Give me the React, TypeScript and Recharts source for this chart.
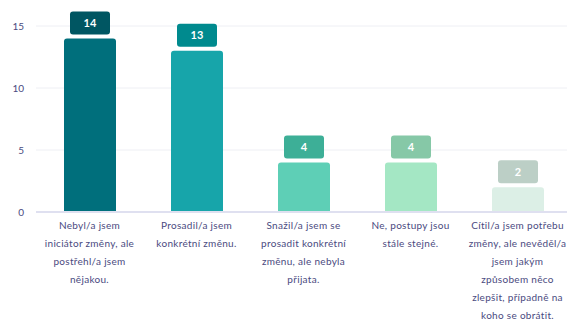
import { Bar, BarChart, CartesianGrid, Cell, LabelList, XAxis, YAxis } from "recharts";

const categories = [
  "Nebyl/a jsem\niniciátor změny, ale\npostřehl/a jsem\nnějakou.",
  "Prosadil/a jsem\nkonkrétní změnu.",
  "Snažil/a jsem se\nprosadit konkrétní\nzměnu, ale nebyla\npřijata.",
  "Ne, postupy jsou\nstále stejné.",
  "Cítil/a jsem potřebu\nzměny, ale nevěděl/a\njsem jakým\nzpůsobem něco\nzlepšit, případně na\nkoho se obrátit.",
];
const counts = [14, 13, 4, 4, 2];
const barColors = ["#006f7c", "#17a5aa", "#5ecfb6", "#a4e7c4", "#dcefe6"];
const labelColors = ["#005662", "#008a8e", "#3daf97", "#86c8a7", "#bccfc6"];
const yTicks = [0, 5, 10, 15];

const data = categories.map((name, i) => ({ name, count: counts[i], idx: i }));

const FONT = "Lato, sans-serif";
const TEXT = "#4a4a80";

// axis labels are pre-wrapped with \n, one tspan per line
function CategoryTick(props: any) {
  const { x, y, payload } = props;
  const lines = String(payload.value).split("\n");
  return (
    <text x={x} y={y} textAnchor="middle" fontFamily={FONT} fontSize={10} letterSpacing={0.3} fill={TEXT}>
      {lines.map((line, i) => (
        <tspan key={i} x={x} dy={i === 0 ? 9 : 18}>
          {line}
        </tspan>
      ))}
    </text>
  );
}

function ValueBadge(props: any) {
  const { x, y, width, value, index } = props;
  const w = 40;
  const h = 23;
  const cx = x + width / 2;
  return (
    <g>
      <rect x={cx - w / 2} y={y - 4 - h} width={w} height={h} rx={3} fill={labelColors[index]} />
      <text
        x={cx}
        y={y - 4 - h / 2}
        dy={4}
        textAnchor="middle"
        fontFamily={FONT}
        fontSize={11}
        fontWeight={700}
        fill="#ffffff"
      >
        {value}
      </text>
    </g>
  );
}

export default function App() {
  return (
    <div style={{ position: "absolute", left: 0, top: 0, width: 567, height: 323, overflow: "hidden", background: "#fff" }}>
      <BarChart width={571} height={323} data={data} margin={{ top: 26, right: 0, bottom: 0, left: 0 }}>
        <CartesianGrid vertical={false} stroke="#eeeff4" />
        <XAxis
          dataKey="name"
          height={111}
          interval={0}
          tickLine={false}
          axisLine={{ stroke: "#dfe0f0", strokeWidth: 2 }}
          tick={<CategoryTick />}
        />
        <YAxis
          width={36}
          domain={[0, 15]}
          ticks={yTicks}
          tickLine={false}
          axisLine={false}
          tickMargin={6}
          tick={{ fontFamily: FONT, fontSize: 10, fill: TEXT }}
        />
        <Bar dataKey="count" barSize={52} radius={[3, 3, 0, 0]} isAnimationActive={false}>
          {data.map((d) => (
            <Cell key={d.idx} fill={barColors[d.idx]} />
          ))}
          <LabelList dataKey="count" content={<ValueBadge />} />
        </Bar>
      </BarChart>
    </div>
  );
}
